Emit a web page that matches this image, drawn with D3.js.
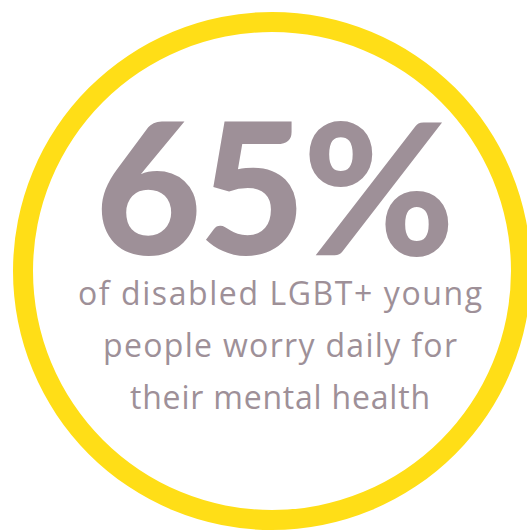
<!DOCTYPE html>
<html>
<head>
<meta charset="utf-8">
<script src="https://cdn.jsdelivr.net/npm/d3@7"></script>
<style>
html,body{margin:0;padding:0;background:#fff;}
svg{display:block;}
</style>
</head>
<body>
<div id="chart"></div>
<script>
// data
const statValue = [65];
const statSuffix = ["%"];
const captionLines = ["of disabled LGBT+ young", "people worry daily for", "their mental health"];

const W = 527, H = 530;
const ringColor = "#FFDE17";
const textColor = "#9E9098";

const svg = d3.select("#chart").append("svg").attr("width", W).attr("height", H);

const cx = 272, cy = 271;
const arc = d3.arc().innerRadius(239).outerRadius(259).startAngle(0).endAngle(2 * Math.PI);
svg.append("path").attr("d", arc()).attr("transform", `translate(${cx},${cy})`).attr("fill", ringColor);

const fmt = d3.format("d");
const big = svg.append("text")
  .attr("x", 275).attr("y", 255)
  .attr("text-anchor", "middle")
  .attr("font-family", "Lato, 'Open Sans', sans-serif")
  .attr("font-weight", 900)
  .attr("font-size", 184)
  .attr("fill", textColor)
  .text(fmt(statValue[0]) + statSuffix[0]);
big.attr("textLength", 360).attr("lengthAdjust", "spacing");

const y0 = 305, dy = 52;
const targets = [404, 354, 300];
svg.selectAll("text.cap").data(captionLines).join("text")
  .attr("class", "cap")
  .attr("x", 280)
  .attr("y", (d, i) => y0 + i * dy)
  .attr("text-anchor", "middle")
  .attr("font-family", "'Open Sans', Lato, sans-serif")
  .attr("font-weight", 400)
  .attr("font-size", 29)
  .attr("fill", textColor)
  .text(d => d)
  .each(function(d, i) {
    const w = this.getComputedTextLength();
    const size = Math.max(26, Math.min(32, 29 * targets[i] / w));
    d3.select(this).attr("font-size", size)
      .attr("textLength", targets[i]).attr("lengthAdjust", "spacing");
  });
</script>
</body>
</html>
